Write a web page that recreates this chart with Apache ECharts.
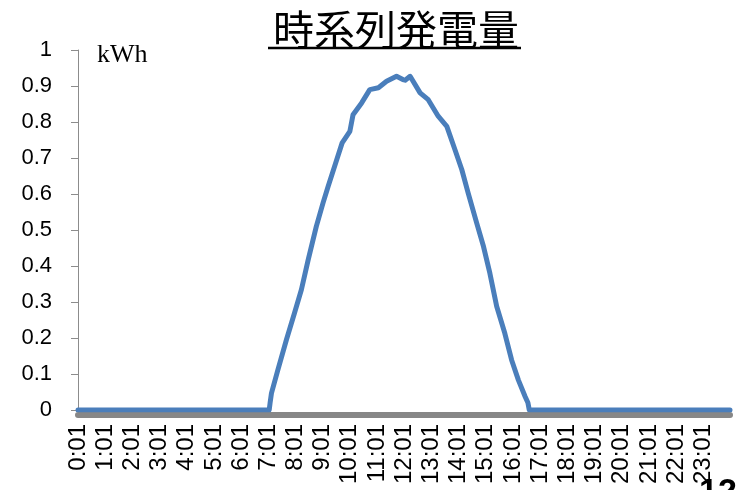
<!DOCTYPE html>
<html>
<head>
<meta charset="utf-8">
<script src="https://cdn.jsdelivr.net/npm/echarts@6/dist/echarts.min.js"></script>
<style>
html,body{margin:0;padding:0;background:#fff;}
#chart{width:740px;height:490px;}
</style>
</head>
<body>
<div id="chart"></div>
<script>
// tick labels of the time axis (every hour)
const hourLabels = ["0:01","1:01","2:01","3:01","4:01","5:01","6:01","7:01","8:01","9:01","10:01","11:01",
  "12:01","13:01","14:01","15:01","16:01","17:01","18:01","19:01","20:01","21:01","22:01","23:01"];
// readings (time of day, kWh)
const times = ["0:01","7:03","7:05","7:08","7:22","7:41","7:59","8:14","8:29","8:47","9:02","9:13","9:32","9:44",
  "10:01","10:08","10:27","10:45","11:04","11:22","11:44","11:48","11:58","12:03","12:14","12:36","12:54",
  "13:16","13:35","13:53","14:08","14:22","14:41","14:56","15:10","15:25","15:43","15:58","16:13","16:28",
  "16:34","16:36","16:37","24:00"];
const kwh = [0,0,0.02,0.047,0.111,0.195,0.270,0.334,0.417,0.510,0.576,0.621,0.695,0.742,
  0.774,0.820,0.853,0.890,0.895,0.913,0.927,0.923,0.918,0.916,0.927,0.881,0.862,
  0.816,0.788,0.723,0.668,0.603,0.519,0.454,0.380,0.288,0.213,0.139,0.083,0.037,
  0.020,0.018,0,0];
const yTicks = [0,0.1,0.2,0.3,0.4,0.5,0.6,0.7,0.8,0.9,1];

function toOffset(t){ const p=t.split(':'); return (+p[0])*60 + (+p[1]) - 1; }
const seriesData = times.map((t,i)=>[toOffset(t), kwh[i]]);

const chart = echarts.init(document.getElementById('chart'), null, {renderer:'canvas'});
chart.setOption({
  animation:false,
  backgroundColor:'#ffffff',
  title:{
    text:'時系列発電量',
    left:268, top:4,
    textStyle:{fontFamily:'Noto Sans CJK JP', fontSize:41, fontWeight:'normal', color:'#000'}
  },
  graphic:[
    {type:'line', shape:{x1:268,y1:48,x2:521,y2:48}, style:{stroke:'#000', lineWidth:2.5}},
    {type:'text', left:97, top:42, style:{text:'kWh', font:'26px "Liberation Serif"', fill:'#000'}},
    {type:'text', left:699, top:476, style:{text:'12', font:'bold 34px "Liberation Sans"', fill:'#000'}}
  ],
  grid:{left:78, right:10, top:50, bottom:80, outerBoundsMode:'none'},
  xAxis:{
    type:'value', min:0, max:1439, interval:60,
    offset:5,
    axisLine:{onZero:false, lineStyle:{color:'#878787', width:6}},
    axisTick:{show:false},
    splitLine:{show:false},
    axisLabel:{
      rotate:90, margin:9, showMaxLabel:false, hideOverlap:false,
      fontFamily:'Liberation Sans', fontSize:24, color:'#000', overflow:'none',
      formatter:function(v){ const i=Math.round(v/60); return hourLabels[i]||''; }
    }
  },
  yAxis:{
    type:'value', min:0, max:1, interval:0.1,
    axisLine:{show:true, lineStyle:{color:'#8c8c8c', width:1}},
    axisTick:{show:true, length:7, lineStyle:{color:'#8c8c8c'}},
    splitLine:{show:false},
    axisLabel:{
      margin:26, fontFamily:'Liberation Sans', fontSize:22, color:'#000',
      formatter:function(v){ const r=Math.round(v*10)/10; return yTicks.indexOf(r)>=0 ? String(r) : ''; }
    }
  },
  series:[{
    type:'line', data:seriesData, showSymbol:false, symbol:'none',
    lineStyle:{color:'#4A7EBB', width:5, join:'round', cap:'round'},
    z:5
  }]
});
</script>
</body>
</html>
